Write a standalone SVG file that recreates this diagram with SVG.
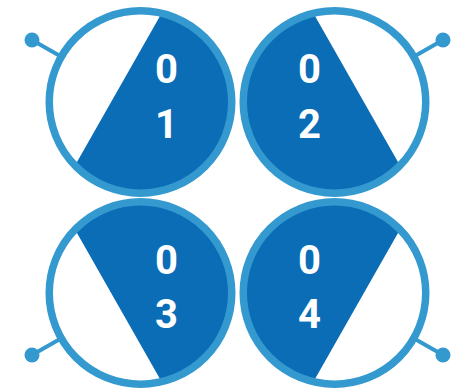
<svg xmlns="http://www.w3.org/2000/svg" xmlns:xlink="http://www.w3.org/1999/xlink" width="458" height="390" viewBox="0 0 458 390">
  <style>
    .seg { fill: #0b6db6; }
    .ring { fill: none; stroke: #3499cf; stroke-width: 7.5; }
    .stem { stroke: #3499cf; stroke-width: 4; stroke-linecap: round; }
    .dot { fill: #3499cf; }
    .num { font-family: Roboto, "Liberation Sans", sans-serif; font-weight: 700; font-size: 40px; fill: #ffffff; text-anchor: middle; }
  </style>
  <defs>
    <g id="shape">
      <line class="stem" x1="-80" y1="-45.7" x2="-108.5" y2="-62"/>
      <circle class="dot" cx="-108.5" cy="-62" r="7.5"/>
      <path class="seg" d="M 21.1,-88.8 A 91.25 91.25 0 1 1 -65.5,63.6 Z"/>
      <circle class="ring" cx="0" cy="0" r="91.25"/>
    </g>
  </defs>
  <rect width="458" height="390" fill="#ffffff"/>
  <g id="node-01" transform="translate(140.5,102)">
    <use xlink:href="#shape" href="#shape"/>
    <text class="num" x="26" y="-19">0</text>
    <text class="num" x="26" y="36">1</text>
  </g>
  <g id="node-02" transform="translate(334.5,102)">
    <use xlink:href="#shape" href="#shape" transform="scale(-1,1)"/>
    <text class="num" x="-25" y="-19">0</text>
    <text class="num" x="-25" y="36">2</text>
  </g>
  <g id="node-03" transform="translate(140.5,293)">
    <use xlink:href="#shape" href="#shape" transform="scale(1,-1)"/>
    <text class="num" x="26" y="-19">0</text>
    <text class="num" x="26" y="35">3</text>
  </g>
  <g id="node-04" transform="translate(334.5,293)">
    <use xlink:href="#shape" href="#shape" transform="scale(-1,-1)"/>
    <text class="num" x="-25" y="-19">0</text>
    <text class="num" x="-25" y="35">4</text>
  </g>
  <g id="connectors"></g>
</svg>
